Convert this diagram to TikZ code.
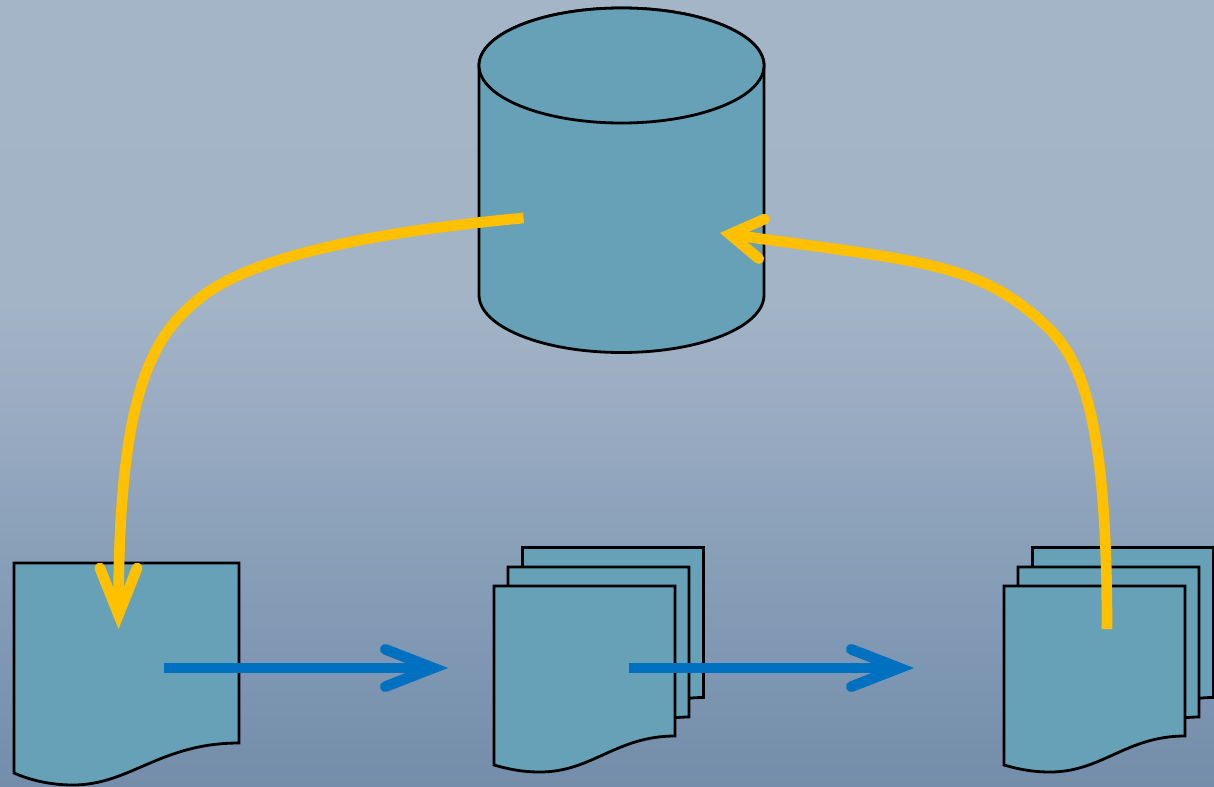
\documentclass[tikz,border=0pt]{standalone}
\usepackage{amsmath}
\usetikzlibrary{arrows.meta}

\definecolor{paperfill}{RGB}{103,161,183}
\definecolor{flowblue}{RGB}{0,112,192}
\definecolor{flowgold}{RGB}{255,192,0}
\definecolor{bgtop}{RGB}{163,181,199}
\definecolor{bgmida}{RGB}{162,180,198}
\definecolor{bgmidc}{RGB}{157,174,196}
\definecolor{bgmidb}{RGB}{136,159,184}
\definecolor{bgend}{RGB}{115,141,170}

\pgfdeclareverticalshading{bgfade}{100bp}{
    color(0bp)=(bgend); color(25bp)=(bgend); color(39.4bp)=(bgmidb);
    color(50.8bp)=(bgmidc); color(55.9bp)=(bgmida); color(75bp)=(bgtop); color(100bp)=(bgtop)}

\tikzset{
    outline/.style={draw=black,line width=2.1pt,fill=paperfill},
    goldflow/.style={draw=flowgold,line width=8pt,
        -{Straight Barb[length=35pt,width=28pt,line width=8pt,line cap=round,line join=miter]}},
    goldback/.style={draw=flowgold,line width=8pt,
        -{Straight Barb[length=24pt,width=30pt,line width=8pt,line cap=round,line join=miter]}},
    blueflow/.style={draw=flowblue,line width=8pt,
        -{Straight Barb[length=36pt,width=28pt,line width=8pt,line cap=round,line join=miter]}},
    drum/.pic={
        \path [outline] (0,0) -- (0,229.5)
            arc [start angle=180,end angle=0,x radius=142.5,y radius=57.5]
            -- (285,0) arc [start angle=0,end angle=-180,x radius=142.5,y radius=57.5] -- cycle;
        \draw [outline] (142.5,0) ellipse [x radius=142.5,y radius=57.5];
    },
    sheet/.pic={
        \path [outline] (0,0) -- (225,0) -- (225,180)
            .. controls (146,180) and (116,222) .. (59,222)
            .. controls (36,222) and (16,217) .. (0,210) -- cycle;
    },
    stacksheet/.pic={
        \path [outline] (0,0) -- (181,0) -- (181,150)
            .. controls (122,150) and (98,186) .. (46,186)
            .. controls (28,186) and (14,183) .. (0,179) -- cycle;
    }
}

\begin{document}
\begin{tikzpicture}[x=0.75pt,y=-0.75pt]
    \useasboundingbox (0,0) rectangle (1214,786);
    \shade [shading=bgfade] (0,0) rectangle (1214,786);

    % database
    \pic at (479,65.5) {drum};

    % single sheet
    \pic at (14,563) {sheet};

    % middle stack
    \pic at (522.5,547.5) {stacksheet};
    \pic at (508,567) {stacksheet};
    \pic at (494,586) {stacksheet};

    % right stack
    \pic at (1032.5,547.5) {stacksheet};
    \pic at (1018,567) {stacksheet};
    \pic at (1004,586) {stacksheet};

    \coordinate (storeout)  at (523.5,218);
    \coordinate (storein)   at (720,233);
    \coordinate (singlein)  at (118.5,629);
    \coordinate (singleout) at (164,668);
    \coordinate (midin)     at (448,668);
    \coordinate (midout)    at (629,668);
    \coordinate (rightin)   at (914,668);
    \coordinate (rightout)  at (1107,629);

    \draw [goldflow] (storeout) .. controls (404,229) and (258.5,251) .. (200,298)
        .. controls (153.2,335.6) and (118.5,389) .. (singlein);
    \draw [goldback] (rightout) .. controls (1107,409) and (1079.9,356.8) .. (1043,323)
        .. controls (976.7,262) and (918,261) .. (storein);
    \draw [blueflow] (singleout) -- (midin);
    \draw [blueflow] (midout) -- (rightin);
\end{tikzpicture}
\end{document}
